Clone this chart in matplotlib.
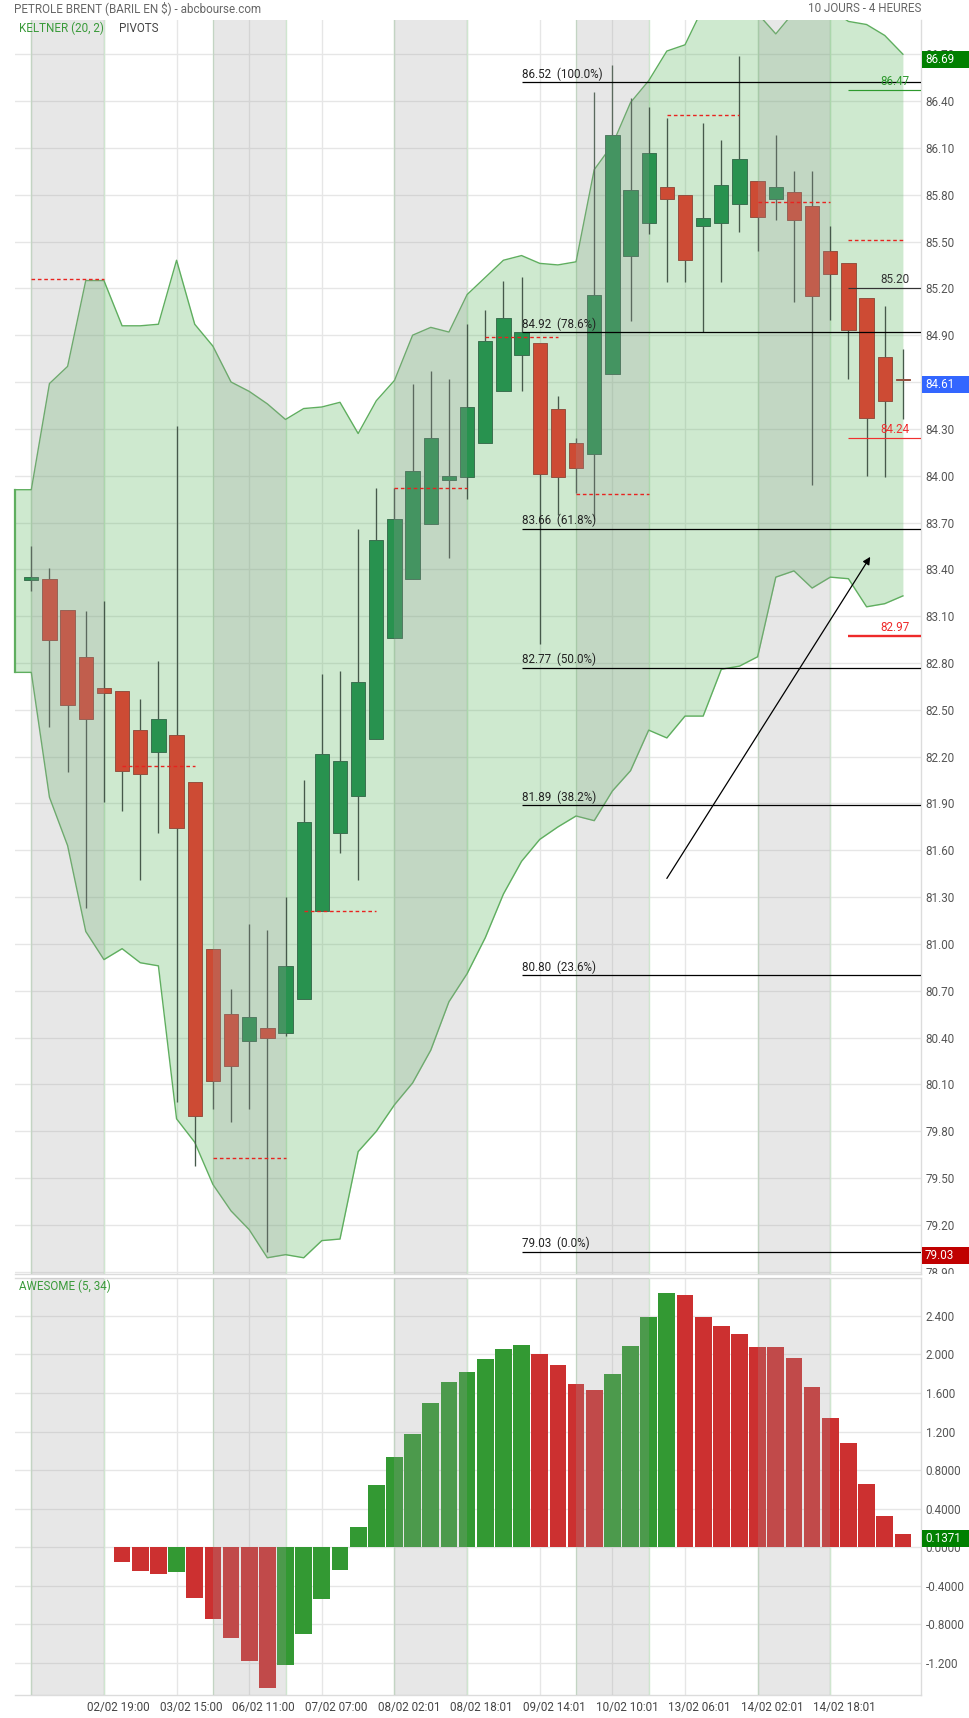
import matplotlib
matplotlib.use("Agg")
import matplotlib.pyplot as plt
import numpy as np
from matplotlib.patches import Rectangle, FancyArrowPatch
from matplotlib.transforms import blended_transform_factory, Bbox, TransformedBbox, ScaledTranslation

plt.rcParams['font.family'] = ['Roboto', 'DejaVu Sans']

# ---------------- data ----------------
opens  = [83.33, 83.34, 83.14, 82.84, 82.64, 82.62, 82.37, 82.23, 82.34, 82.04,
          80.97, 80.55, 80.38, 80.46, 80.43, 80.65, 81.21, 81.71, 81.95, 82.31,
          82.96, 83.34, 83.69, 83.97, 83.99, 84.21, 84.54, 84.77, 84.85, 84.43,
          84.21, 84.14, 84.65, 85.41, 85.62, 85.85, 85.80, 85.60, 85.62, 85.74,
          85.89, 85.77, 85.82, 85.73, 85.44, 85.36, 85.14, 84.76, 84.62]
highs  = [83.55, 83.41, 83.14, 83.13, 83.20, 82.62, 82.57, 82.81, 84.32, 82.04,
          80.97, 80.71, 81.13, 81.09, 81.30, 82.05, 82.73, 82.75, 83.66, 83.92,
          83.92, 84.59, 84.67, 84.62, 84.97, 85.06, 85.25, 85.27, 84.85, 84.51,
          84.24, 86.46, 86.63, 86.42, 86.36, 86.29, 85.80, 86.26, 86.15, 86.69,
          85.89, 86.18, 85.95, 85.95, 85.60, 85.36, 85.14, 85.09, 84.81]
lows   = [83.26, 82.39, 82.10, 81.23, 81.91, 81.85, 81.41, 81.71, 79.99, 79.58,
          79.94, 79.86, 79.94, 79.03, 80.41, 80.65, 81.21, 81.58, 81.41, 82.31,
          82.96, 83.34, 83.69, 83.47, 83.85, 84.21, 84.54, 84.54, 82.92, 83.75,
          83.89, 83.72, 84.65, 84.99, 85.55, 85.24, 85.24, 84.92, 85.24, 85.56,
          85.44, 85.64, 85.11, 83.94, 85.00, 84.62, 84.00, 83.99, 84.36]
closes = [83.35, 82.95, 82.53, 82.44, 82.61, 82.11, 82.09, 82.44, 81.74, 79.90,
          80.12, 80.22, 80.53, 80.40, 80.86, 81.78, 82.22, 82.17, 82.68, 83.59,
          83.72, 84.03, 84.24, 84.00, 84.44, 84.86, 85.01, 84.92, 84.01, 83.99,
          84.05, 85.16, 86.18, 85.83, 86.07, 85.77, 85.38, 85.65, 85.86, 86.03,
          85.66, 85.85, 85.64, 85.15, 85.29, 84.93, 84.37, 84.48, 84.61]

# Keltner (20, 2) bands, starting one period before the first candle
keltner_upper = [83.91, 83.91, 84.59, 84.70, 85.25, 85.25, 84.96, 84.96, 84.97, 85.38,
                 84.97, 84.83, 84.60, 84.54, 84.46, 84.36, 84.43, 84.44, 84.47, 84.27,
                 84.48, 84.61, 84.90, 84.95, 84.92, 85.16, 85.27, 85.38, 85.41, 85.36,
                 85.35, 85.37, 85.96, 86.12, 86.39, 86.53, 86.72, 86.76, 87.00, 87.10,
                 87.10, 86.96, 86.83, 86.97, 87.02, 86.99, 86.91, 86.89, 86.82, 86.70]
keltner_lower = [82.74, 82.74, 81.94, 81.63, 81.08, 80.90, 80.97, 80.88, 80.86, 79.88,
                 79.73, 79.46, 79.29, 79.17, 78.99, 79.01, 78.99, 79.10, 79.11, 79.67,
                 79.80, 79.97, 80.11, 80.32, 80.63, 80.81, 81.04, 81.32, 81.53, 81.67,
                 81.75, 81.82, 81.79, 81.98, 82.11, 82.37, 82.32, 82.46, 82.46, 82.76,
                 82.78, 82.84, 83.35, 83.39, 83.28, 83.35, 83.34, 83.16, 83.18, 83.23]

# daily pivots (one per 5 candles)
daily_pivots = [85.26, 82.14, 79.63, 81.21, 83.92, 84.89, 83.88, 86.31, 85.75, 85.51]
candles_per_day = 5

# current pivots (R1, P, S1, S2)
pivot_values = [86.47, 85.20, 84.24, 82.97]
pivot_colors = ['#2e9a2e', '#333333', '#f03030', '#ee2a2a']
pivot_widths = [1.0, 1.0, 1.0, 2.0]

# Fibonacci retracement
fib_levels = [86.52, 84.92, 83.66, 82.77, 81.89, 80.80, 79.03]
fib_pcts = ['100.0%', '78.6%', '61.8%', '50.0%', '38.2%', '23.6%', '0.0%']
fib_start = 27

# trend arrow annotation (candle index, price)
arrow_start = (35.0, 81.42)
arrow_end = (46.2, 83.48)

# Awesome oscillator (5, 34) - starts at candle 5
awesome_start = 5
awesome = [-0.152, -0.245, -0.276, -0.255, -0.524, -0.741, -0.938, -1.176, -1.455, -1.217,
           -0.897, -0.534, -0.234, 0.207, 0.641, 0.931, 1.179, 1.500, 1.717, 1.821,
           1.955, 2.059, 2.100, 2.007, 1.893, 1.697, 1.634, 1.800, 2.090, 2.390,
           2.638, 2.617, 2.390, 2.297, 2.214, 2.079, 2.075, 1.966, 1.666, 1.345,
           1.076, 0.652, 0.321, 0.1371]
awesome_ticks = [-1.2, -0.8, -0.4, 0.0, 0.4, 0.8, 1.2, 1.6, 2.0, 2.4]
awesome_ticklabels = ['-1.200', '-0.8000', '-0.4000', '0.0000', '0.4000', '0.8000',
                      '1.200', '1.600', '2.000', '2.400']

price_ticks = [round(78.90 + 0.30 * k, 2) for k in range(27)]

x_labels = ['02/02 19:00', '03/02 15:00', '06/02 11:00', '07/02 07:00', '08/02 02:01',
            '08/02 18:01', '09/02 14:01', '10/02 10:01', '13/02 06:01', '14/02 02:01',
            '14/02 18:01']

band_starts = [0, 10, 20, 30, 40]
band_len = 4

# ---------------- figure ----------------
W, H = 969, 1718
fig = plt.figure(figsize=(W / 100, H / 100), dpi=100)
fig.patch.set_facecolor('white')

L, R = 14.7, 920.7
ax = fig.add_axes([L / W, 1 - 1274 / H, (R - L) / W, (1274 - 20) / H])
ax2 = fig.add_axes([L / W, 1 - 1695 / H, (R - L) / W, (1695 - 1278) / H])

n = len(opens)
idx = np.arange(n)
xlim = (-0.914, 48.98)

GRID = '#e6e6e6'
SPINE = '#dcdcdc'
TICKC = '#555555'
FS = 8.4

for a in (ax, ax2):
    a.set_xlim(*xlim)
    a.set_axisbelow(True)
    a.set_xticks(range(0, 45, 4))
    a.tick_params(axis='x', length=0, labelbottom=False)
    a.grid(True, color=GRID, lw=1.0)
    a.yaxis.tick_right()
    a.tick_params(axis='y', length=0, pad=3.5, labelsize=FS, labelcolor=TICKC)
    a.spines['left'].set_visible(False)
    for s in ('right', 'bottom', 'top'):
        a.spines[s].set_color(SPINE)
        a.spines[s].set_linewidth(1.0)
    # day bands
    for s in band_starts:
        a.axvspan(s, s + band_len, color=(0.62, 0.62, 0.62), alpha=0.24, lw=0, zorder=3)
        for e in (s, s + band_len):
            a.axvline(e, color='#cfe6cf', lw=1.0, zorder=0.6)
ax.spines['top'].set_visible(False)

# ---------------- main chart ----------------
ymin, ymax = 78.886, 86.919
ax.set_ylim(ymin, ymax)
ax.set_yticks(price_ticks)
ax.set_yticklabels(['%.2f' % t for t in price_ticks])
clip = TransformedBbox(Bbox([[0, 0], [1.1, 1]]), ax.transAxes)
for lab in ax.get_yticklabels():
    lab.set_clip_box(clip)
    lab.set_clip_on(True)

# Keltner channel
xk = np.arange(-1, n)
ax.fill_between(xk, keltner_lower, keltner_upper, color=(76 / 255, 175 / 255, 80 / 255),
                alpha=0.27, lw=0, zorder=1)
ax.plot(xk, keltner_upper, color='#5fae5f', lw=1.0, zorder=1.2)
ax.plot(xk, keltner_lower, color='#5fae5f', lw=1.0, zorder=1.2)
# channel edge at the left border of the plot
ax.plot([xlim[0], xlim[0]], [keltner_lower[0], keltner_upper[0]], color='#5fae5f',
        lw=1.6, zorder=1.2, clip_on=False)

# candles
o = np.array(opens); c = np.array(closes); h = np.array(highs); lo = np.array(lows)
up = c >= o
ax.vlines(idx, lo, h, color='#46594b', lw=0.95, zorder=2)
body_bottom = np.minimum(o, c)
body_h = np.maximum(np.abs(c - o), 0.012)
face = np.where(up, '#28924f', '#cd4b34')
edge = np.where(up, '#3b7050', '#94503f')
ax.bar(idx, body_h, bottom=body_bottom, width=0.79, color=face, edgecolor=edge,
       linewidth=0.7, zorder=2.2)

# daily pivots (dashed red)
for k, pv in enumerate(daily_pivots):
    s = k * candles_per_day
    e = min(s + candles_per_day - 1, n - 1)
    ax.plot([s, e], [pv, pv], color='#e8231f', lw=1.0, dashes=(2.6, 2.0), zorder=4)

# current pivots
last_day = (len(daily_pivots) - 1) * candles_per_day
for pv, col, lw in zip(pivot_values, pivot_colors, pivot_widths):
    ax.plot([last_day, xlim[1]], [pv, pv], color=col, lw=lw * 0.85, zorder=4,
            solid_capstyle='butt')
    ax.annotate('%.2f' % pv, xy=(n - 1, pv), xytext=(5, 1.5), textcoords='offset points',
                ha='right', va='bottom', fontsize=FS, color=col, zorder=5)

# Fibonacci
for lev, pct in zip(fib_levels, fib_pcts):
    ax.plot([fib_start, xlim[1]], [lev, lev], color='black', lw=0.9, zorder=4,
            solid_capstyle='butt')
    ax.annotate('%.2f  (%s)' % (lev, pct), xy=(fib_start, lev), xytext=(0, 1.0),
                textcoords='offset points', ha='left', va='bottom', fontsize=FS,
                color='#222222', zorder=5)

# arrow
ax.add_patch(FancyArrowPatch(arrow_start, arrow_end, arrowstyle='-|>', mutation_scale=11,
                             color='black', lw=0.9, zorder=5, shrinkA=0, shrinkB=0))

# badges (value labels on the right axis, sitting slightly below their value)
shift = ScaledTranslation(0, -4.0 / 100, fig.dpi_scale_trans)

def badge(a, value, text, color):
    y0, y1 = a.get_ylim()
    hpx = a.get_position().height * H
    hh = 17.0 * (y1 - y0) / hpx
    tr = blended_transform_factory(a.transAxes, a.transData) + shift
    a.add_patch(Rectangle((1.0016, value - hh / 2), 0.0525, hh, transform=tr, fc=color,
                          ec='none', clip_on=False, zorder=10))
    a.text(1.0048, value, text, transform=tr, color='white', ha='left', va='center',
           fontsize=FS, zorder=11, clip_on=False)

badge(ax, max(highs), '%.2f' % max(highs), '#008000')
badge(ax, closes[-1], '%.2f' % closes[-1], '#3366ff')
badge(ax, min(lows), '%.2f' % min(lows), '#c00000')

# ---------------- awesome ----------------
ax2.set_ylim(-1.531, 2.791)
ax2.set_yticks(awesome_ticks)
ax2.set_yticklabels(awesome_ticklabels)
av = np.array(awesome)
ax_idx = np.arange(awesome_start, awesome_start + len(av))
acol = ['#339933' if (k > 0 and av[k] > av[k - 1]) else '#cc3030' for k in range(len(av))]
ax2.bar(ax_idx, av, width=0.92, color=acol, lw=0, zorder=2)
badge(ax2, av[-1], '%.4f' % av[-1], '#008000')

# ---------------- texts ----------------
fig.text(14 / W, 1 - 8 / H, 'PETROLE BRENT (BARIL EN $) - abcbourse.com', ha='left',
         va='center', fontsize=FS, color='#666666')
fig.text(921 / W, 1 - 8 / H, '10 JOURS - 4 HEURES', ha='right', va='center',
         fontsize=FS, color='#666666')
fig.text(18.6 / W, 1 - 28.5 / H, 'KELTNER (20, 2)', ha='left', va='center',
         fontsize=FS, color='#3a9a3a', zorder=20)
fig.text(119.5 / W, 1 - 28.5 / H, 'PIVOTS', ha='left', va='center',
         fontsize=FS, color='#444444', zorder=20)
fig.text(18.6 / W, 1 - 1286 / H, 'AWESOME (5, 34)', ha='left', va='center',
         fontsize=FS, color='#3a9a3a', zorder=20)

xt = blended_transform_factory(ax2.transData, fig.transFigure)
for k, lab in enumerate(x_labels):
    ax2.text(4 * (k + 1) + 0.8, 1 - 1708 / H, lab, transform=xt, ha='center', va='center',
             fontsize=FS, color='#444444', clip_on=False)

fig.savefig('out.png', dpi=100, facecolor='white')
